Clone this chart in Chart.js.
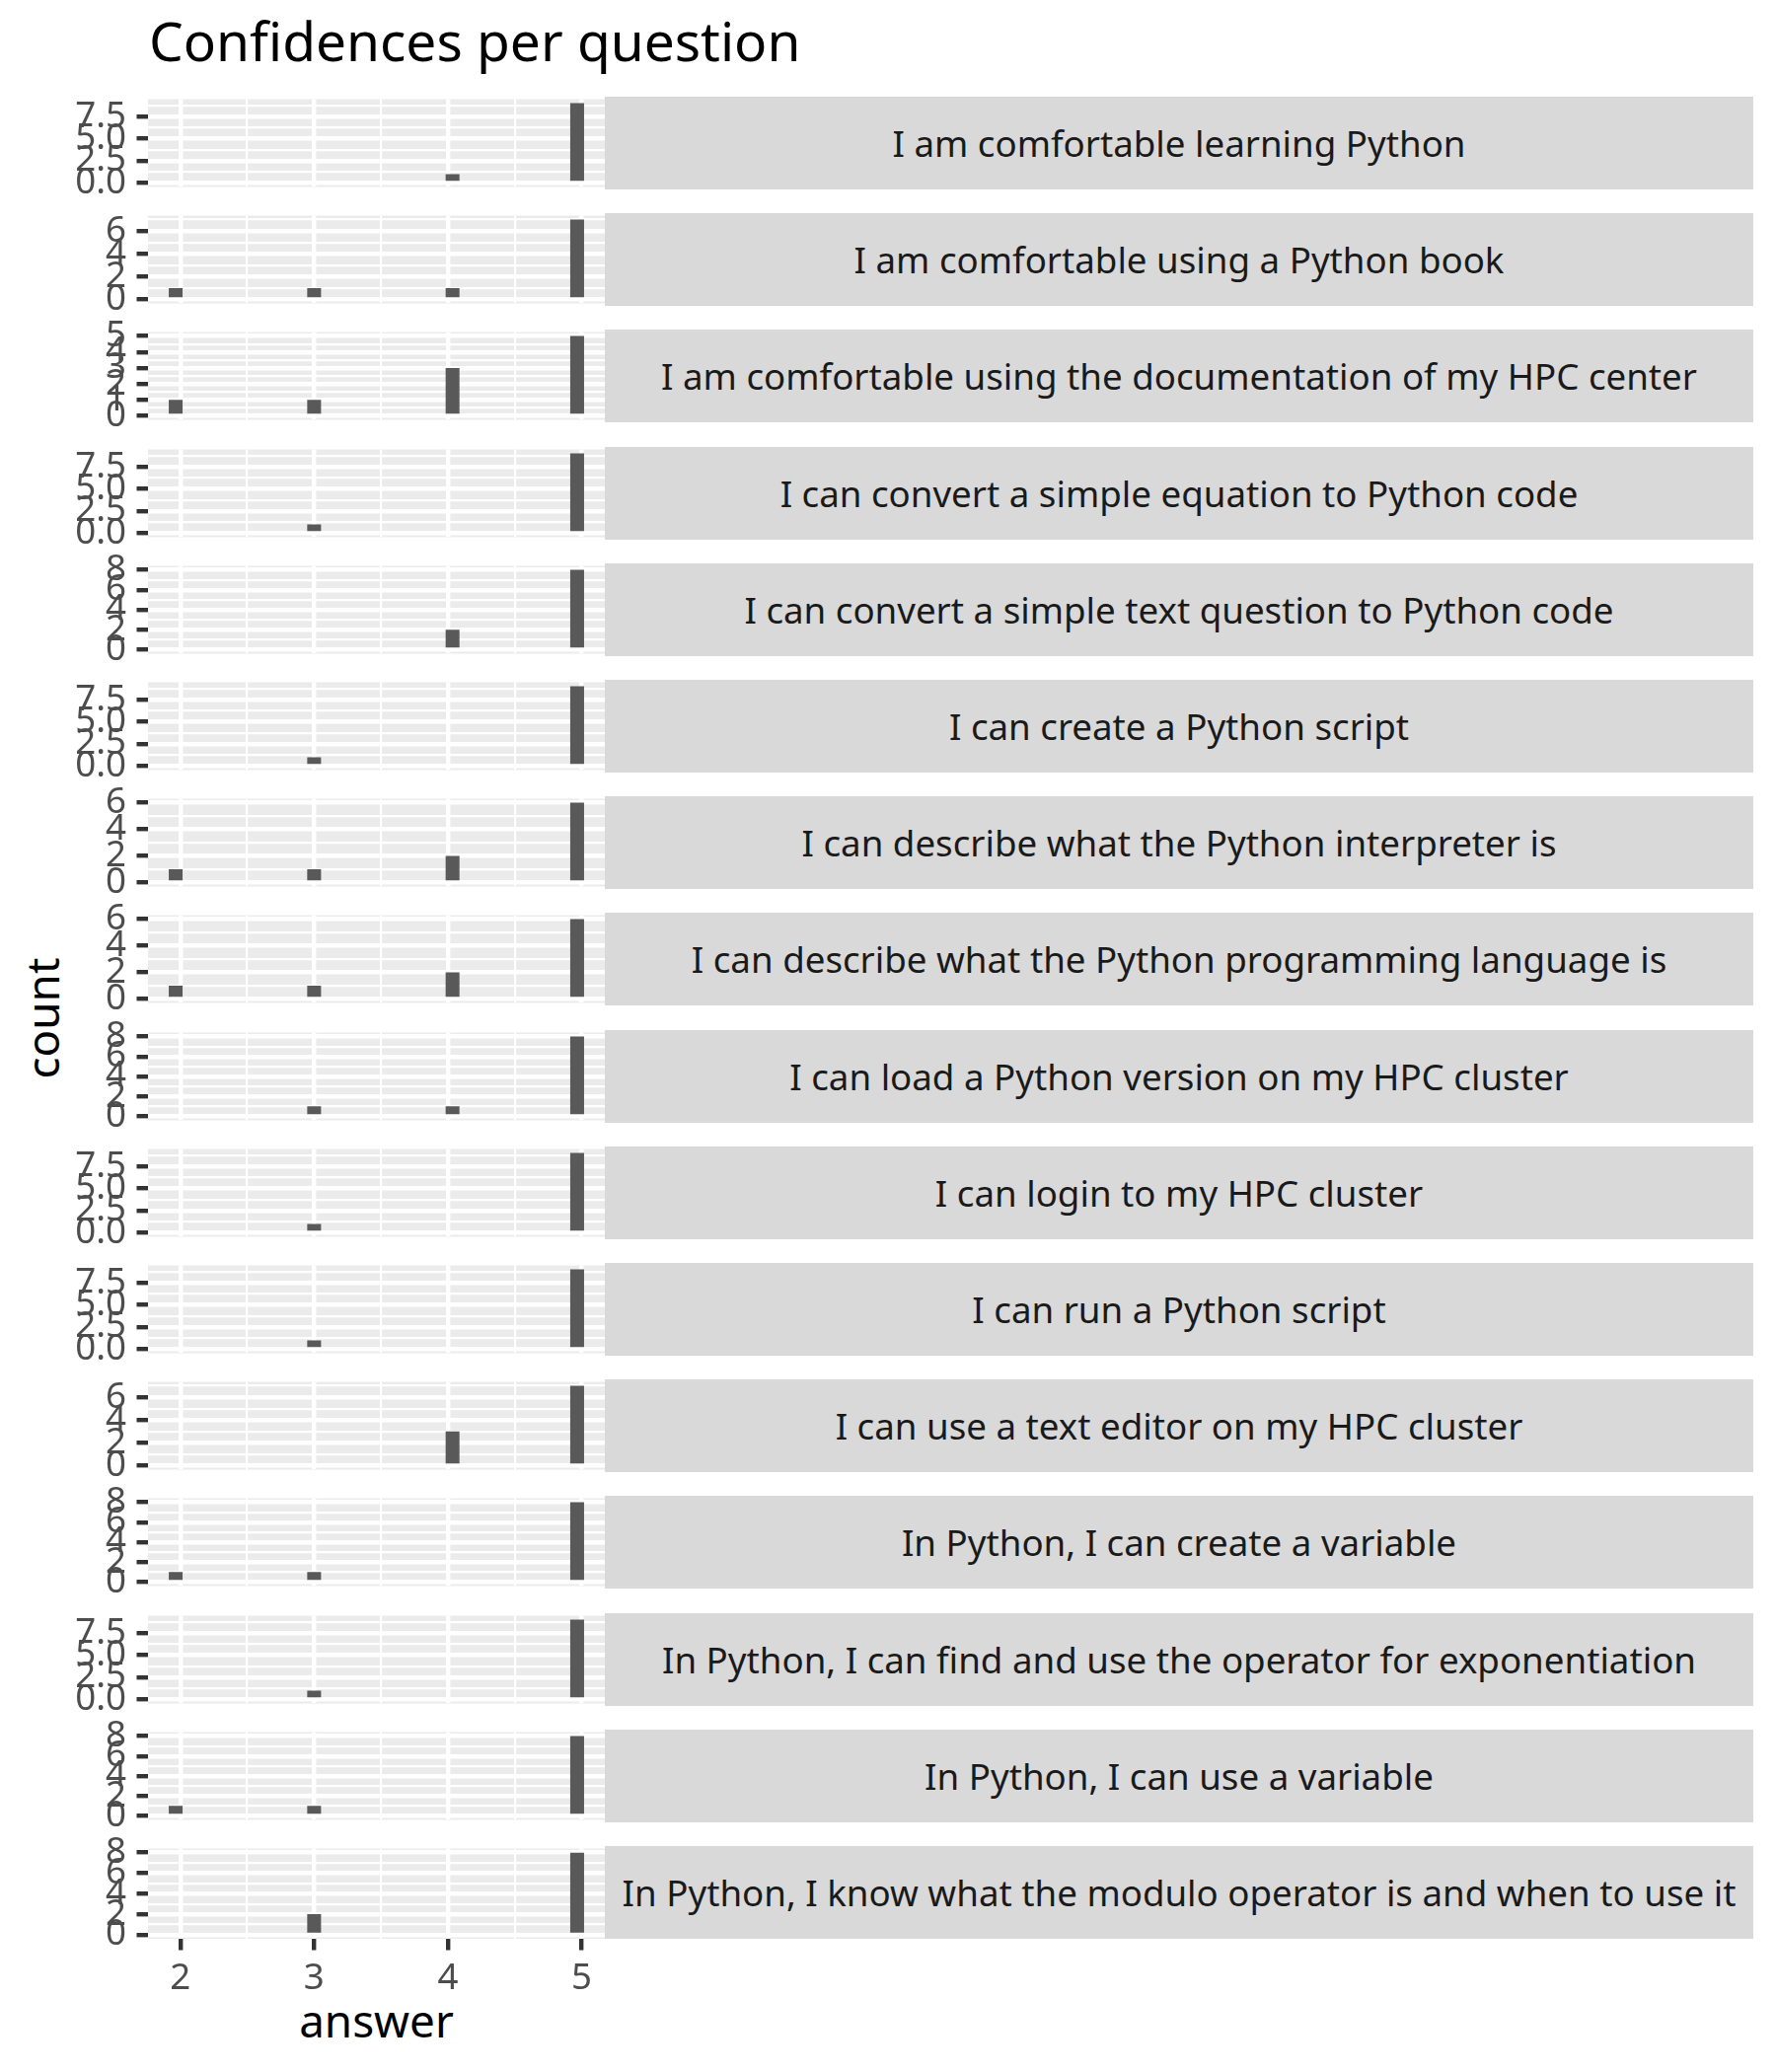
<!DOCTYPE html>
<html>
<head>
<meta charset="utf-8">
<script src="https://cdn.jsdelivr.net/npm/chart.js@4.4.1/dist/chart.umd.min.js"></script>
<style>
  html, body { margin: 0; padding: 0; background: #fff; }
  #page { position: relative; width: 1800px; height: 2100px; overflow: hidden; font-family: "Noto Sans", sans-serif; }
  canvas { position: absolute; }
  .strip { position: absolute; background: #d9d9d9; color: #1a1a1a; font-size: 36.7px;
           display: flex; align-items: center; justify-content: center; white-space: nowrap; }
  #title { position: absolute; left: 151px; top: 13px; font-size: 55px; line-height: 1; color: #000; white-space: nowrap; }
  #xlab { position: absolute; left: 150px; width: 463px; top: 2025px; font-size: 45.8px; line-height: 1; text-align: center; color: #000; }
  #ylab { position: absolute; left: 43px; top: 1032px; font-size: 45.8px; line-height: 1; color: #000;
          transform: translate(-50%, -50%) rotate(-90deg); white-space: nowrap; }
</style>
</head>
<body>
<div id="page">
  <div id="title">Confidences per question</div>
  <div id="ylab">count</div>
  <div id="xlab">answer</div>
</div>
<script>
// one facet per question, counts of answers 2..5
const questions = [
  'I am comfortable learning Python',
  'I am comfortable using a Python book',
  'I am comfortable using the documentation of my HPC center',
  'I can convert a simple equation to Python code',
  'I can convert a simple text question to Python code',
  'I can create a Python script',
  'I can describe what the Python interpreter is',
  'I can describe what the Python programming language is',
  'I can load a Python version on my HPC cluster',
  'I can login to my HPC cluster',
  'I can run a Python script',
  'I can use a text editor on my HPC cluster',
  'In Python, I can create a variable',
  'In Python, I can find and use the operator for exponentiation',
  'In Python, I can use a variable',
  'In Python, I know what the modulo operator is and when to use it'
];
const answers = [2, 3, 4, 5];
const counts = [
  [0, 0, 1, 9],
  [1, 1, 1, 7],
  [1, 1, 3, 5],
  [0, 1, 0, 9],
  [0, 0, 2, 8],
  [0, 1, 0, 9],
  [1, 1, 2, 6],
  [1, 1, 2, 6],
  [0, 1, 1, 8],
  [0, 1, 0, 9],
  [0, 1, 0, 9],
  [0, 0, 3, 7],
  [1, 1, 0, 8],
  [0, 1, 0, 9],
  [1, 1, 0, 8],
  [0, 2, 0, 8]
];
// y tick labels, by the largest count in a facet
const yTickLabels = {
  5: ['0', '1', '2', '3', '4', '5'],
  6: ['0', '2', '4', '6'],
  7: ['0', '2', '4', '6'],
  8: ['0', '2', '4', '6', '8'],
  9: ['0.0', '2.5', '5.0', '7.5']
};
const xTickLabels = ['2', '3', '4', '5'];

// histogram binning (30 bins)
const binWidth = 3 / 29;
const binCenter = 3;

// layout
const PANEL_TOP0 = 98, PITCH = 118.2, PANEL_H = 94;
const PANEL_L = 150, PANEL_R = 613, STRIP_R = 1777;
const AXIS_W = 90, X_AXIS_H = 75, PAD = 30;
const MAJOR_W = 4.4, MINOR_W = 2.2, TICK_LEN = 11.5;

Chart.defaults.font.family = '"Noto Sans", sans-serif';

const page = document.getElementById('page');

const binIdx = answers.map(a => Math.round((a - binCenter) / binWidth));
const kMin = Math.min(...binIdx), kMax = Math.max(...binIdx);
const binCenters = [];
for (let k = kMin; k <= kMax; k++) binCenters.push(binCenter + k * binWidth);
const lo = binCenters[0] - binWidth / 2, hi = binCenters[binCenters.length - 1] + binWidth / 2;
const xMin = lo - (hi - lo) * 0.05, xMax = hi + (hi - lo) * 0.05;

const xMajor = xTickLabels.map(Number);
const xMinor = [];
for (let i = 0; i < xMajor.length - 1; i++) xMinor.push((xMajor[i] + xMajor[i + 1]) / 2);
const xAll = xMajor.concat(xMinor).sort((a, b) => a - b);

const near = (a, b) => Math.abs(a - b) < 1e-6;

const panelBg = {
  id: 'panelBg',
  beforeDraw(chart) {
    const a = chart.chartArea, ctx = chart.ctx;
    ctx.save();
    ctx.fillStyle = '#ebebeb';
    ctx.fillRect(a.left, a.top, a.right - a.left, a.bottom - a.top);
    ctx.restore();
  }
};

function makePanel(i) {
  const last = i === questions.length - 1;
  const top = Math.round(PANEL_TOP0 + i * PITCH);
  const w = PANEL_R - (PANEL_L - AXIS_W);
  const h = PAD + PANEL_H + (last ? X_AXIS_H : PAD);

  const strip = document.createElement('div');
  strip.className = 'strip';
  strip.style.left = PANEL_R + 'px';
  strip.style.width = (STRIP_R - PANEL_R) + 'px';
  strip.style.top = top + 'px';
  strip.style.height = PANEL_H + 'px';
  strip.textContent = questions[i];
  page.appendChild(strip);

  const c = document.createElement('canvas');
  c.width = w; c.height = h;
  c.style.left = (PANEL_L - AXIS_W) + 'px';
  c.style.top = (top - PAD) + 'px';
  c.style.width = w + 'px';
  c.style.height = h + 'px';
  page.appendChild(c);

  // empty bins stay in the data (as null) so the bar width is one bin
  const data = binCenters.map((x, j) => {
    let y = 0;
    binIdx.forEach((k, a) => { if (k === kMin + j) y += counts[i][a]; });
    return { x: x, y: y > 0 ? y : null };
  });

  const maxC = Math.max(...counts[i]);
  const labels = yTickLabels[maxC];
  const yMajor = labels.map(Number);
  const step = yMajor[1] - yMajor[0];
  const yMin = -0.05 * maxC, yMax = maxC * 1.05;
  const yMinor = [];
  for (let v = yMajor[0] - step / 2; v <= yMax; v += step) if (v >= yMin) yMinor.push(v);
  const yAll = yMajor.concat(yMinor).sort((a, b) => a - b);

  new Chart(c, {
    type: 'bar',
    data: {
      datasets: [{
        data: data,
        backgroundColor: '#595959',
        borderWidth: 0,
        inflateAmount: 0,
        barPercentage: 1,
        categoryPercentage: 1
      }]
    },
    options: {
      responsive: false,
      animation: false,
      layout: { padding: { top: PAD, bottom: last ? 0 : PAD, left: 0, right: 0 } },
      plugins: { legend: { display: false }, tooltip: { enabled: false } },
      scales: {
        x: {
          type: 'linear', min: xMin, max: xMax, offset: false,
          afterBuildTicks: s => { s.ticks = xAll.map(v => ({ value: v })); },
          afterFit: s => { s.height = last ? X_AXIS_H : 0; },
          ticks: {
            display: last, autoSkip: false, maxRotation: 0, padding: 7,
            color: '#4d4d4d', font: { size: 36.7 },
            callback: v => { const j = xMajor.findIndex(m => near(m, v)); return j < 0 ? '' : xTickLabels[j]; }
          },
          grid: {
            offset: false, color: '#ffffff', drawTicks: last, tickLength: TICK_LEN,
            lineWidth: ctx => xMajor.some(m => near(m, ctx.tick.value)) ? MAJOR_W : MINOR_W,
            tickColor: ctx => xMajor.some(m => near(m, ctx.tick.value)) ? '#333333' : 'rgba(0,0,0,0)',
            tickWidth: MAJOR_W
          },
          border: { display: false }
        },
        y: {
          type: 'linear', min: yMin, max: yMax,
          afterBuildTicks: s => { s.ticks = yAll.map(v => ({ value: v })); },
          afterFit: s => { s.width = AXIS_W; },
          ticks: {
            autoSkip: false, padding: 10.5, color: '#4d4d4d', font: { size: 36.7 },
            callback: v => { const j = yMajor.findIndex(m => near(m, v)); return j < 0 ? '' : labels[j]; }
          },
          grid: {
            color: '#ffffff', tickLength: TICK_LEN,
            lineWidth: ctx => yMajor.some(m => near(m, ctx.tick.value)) ? MAJOR_W : MINOR_W,
            tickColor: ctx => yMajor.some(m => near(m, ctx.tick.value)) ? '#333333' : 'rgba(0,0,0,0)',
            tickWidth: MAJOR_W
          },
          border: { display: false }
        }
      }
    },
    plugins: [panelBg]
  });
}

questions.forEach((q, i) => makePanel(i));
</script>
</body>
</html>
